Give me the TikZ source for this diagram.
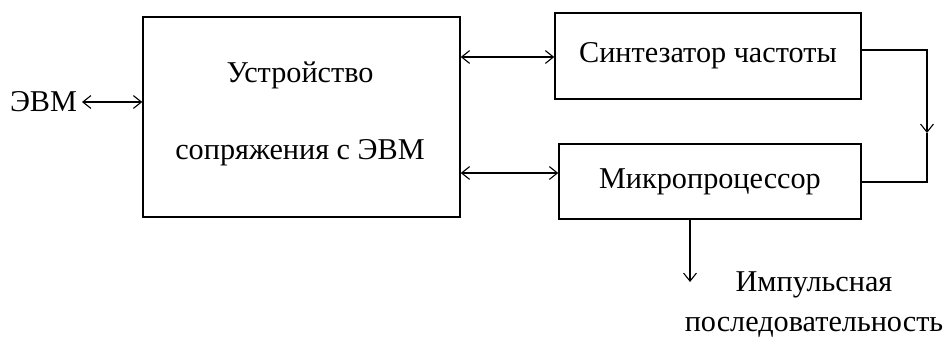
\documentclass[tikz,border=0pt]{standalone}
\usepackage{fontspec}
\setmainfont{Liberation Serif}
\usepackage{tikz}
\usetikzlibrary{positioning, arrows.meta}

\begin{document}
\begin{tikzpicture}[
    block/.style={rectangle, draw, line width=1pt, inner sep=0pt},
    label/.style={font=\fontsize{21.5}{28}\selectfont, align=center},
    link/.style={line width=0.8pt, -{Straight Barb[length=0.2cm, width=0.32cm]}},
    twoway/.style={line width=0.8pt, {Straight Barb[length=0.2cm, width=0.32cm]}-{Straight Barb[length=0.2cm, width=0.32cm]}}
]

\useasboundingbox (0,0) rectangle (23.6,8.475);

\node[block, minimum width=7.925cm, minimum height=5cm] (iface) at (7.5375,5.55) {};
\node[label] (ifacetop) at (7.5,6.6) {Устройство};
\node[label] (ifacebot) at (7.5,4.65) {сопряжения с ЭВМ};

\node[block, minimum width=7.65cm, minimum height=2.15cm, label] (synth) at (17.7,7.075) {Синтезатор частоты};
\node[block, minimum width=7.55cm, minimum height=1.875cm, label] (micro) at (17.75,3.9375) {Микропроцессор};

\node[label, anchor=east] (evm) at (2.05,5.925) {ЭВМ};
\node[label] (pulse) at (20.35,0.86) {Импульсная\\последовательность};

\coordinate (busA) at (11.5,7.05);
\coordinate (busB) at (11.5,4.15);
\coordinate (rtop) at (23.175,7.225);
\coordinate (rmid) at (23.175,5.15);
\coordinate (rbot) at (23.175,3.925);
\coordinate (pout) at (17.25,1.425);

\draw[twoway] (evm) -- (iface.west |- evm);
\draw[twoway] (iface.east |- busA) -- (synth.west |- busA);
\draw[twoway] (iface.east |- busB) -- (micro.west |- busB);

\draw[link] (rtop -| synth.east) -- (rtop) -- (rmid);
\draw[line width=0.8pt] (rmid) -- (rbot) -- (rbot -| micro.east);
\draw[link] (micro.south -| pout) -- (pout);

\end{tikzpicture}
\end{document}
